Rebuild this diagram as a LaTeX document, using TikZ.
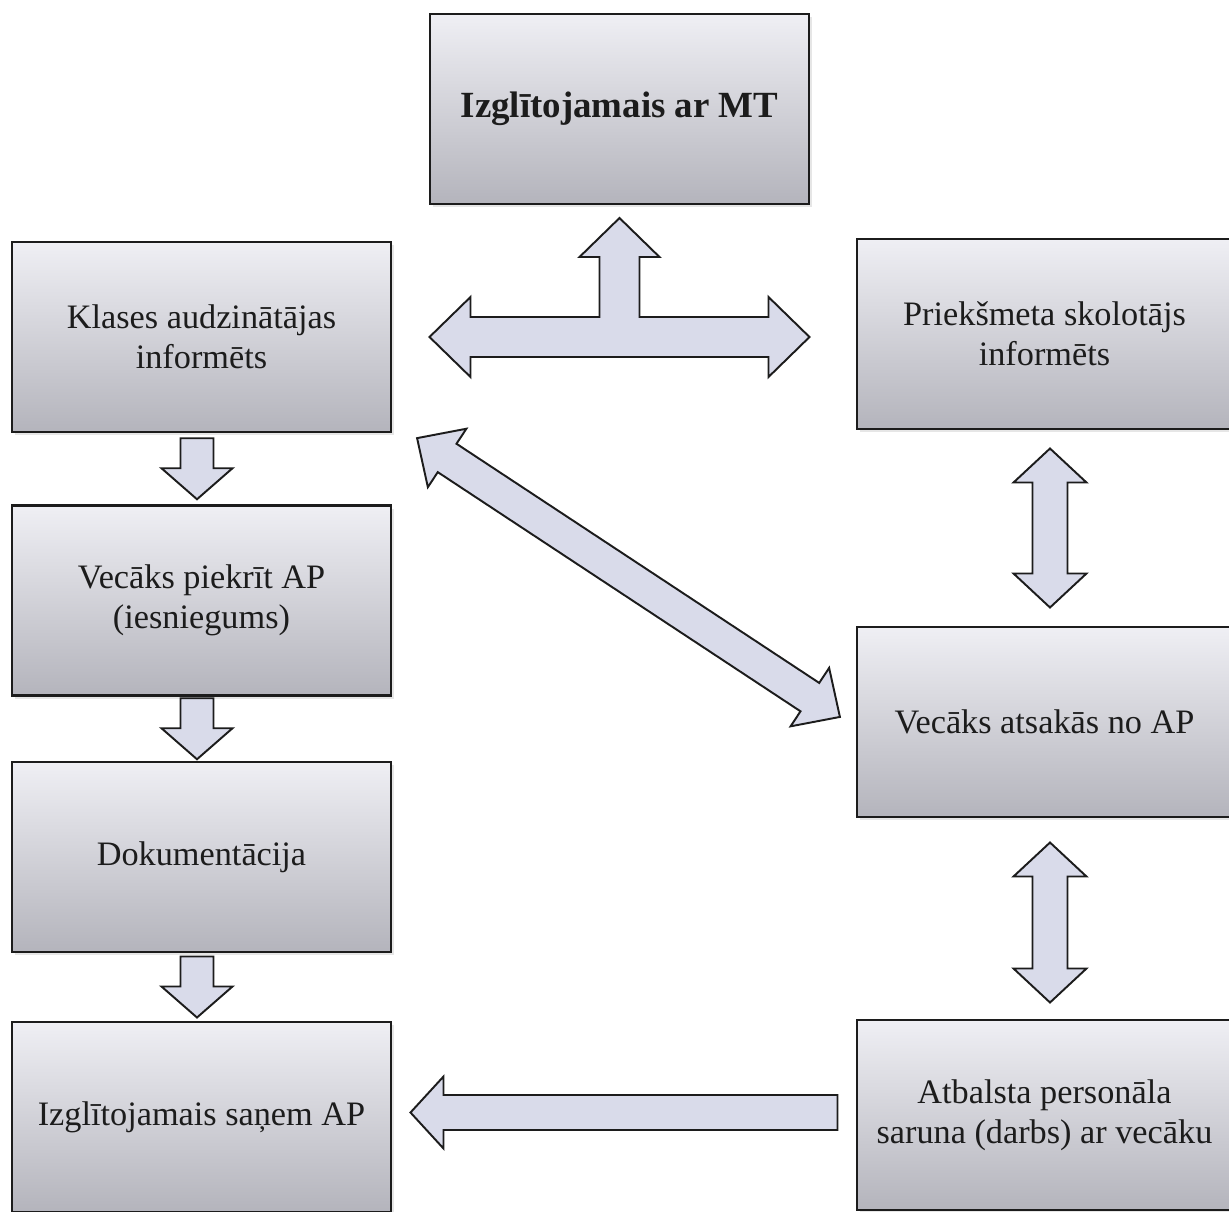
\documentclass[tikz,border=0pt]{standalone}
\usepackage{fontspec}
\setmainfont{Liberation Serif}
\usepackage{xcolor}
\definecolor{boxtop}{HTML}{EFEFF4}
\definecolor{boxbot}{HTML}{B4B4BC}
\definecolor{arrowfill}{HTML}{D9DBEA}
\definecolor{edge}{HTML}{1C1C1C}
\usetikzlibrary{calc, shadows}

\begin{document}
\begin{tikzpicture}[
    font=\fontsize{19.5}{23}\selectfont,
    text=edge,
    block/.style={draw=edge, line width=1.2pt, top color=boxtop, bottom color=boxbot,
                  minimum width=7.58cm, minimum height=3.8cm, align=center, inner sep=0pt,
                  drop shadow={opacity=0.2, shadow xshift=0.06cm, shadow yshift=-0.06cm}},
    arrowbox/.style={draw=edge, line width=1.1pt, fill=arrowfill, line join=miter},
    pics/onehead/.style args={#1/#2/#3/#4}{code={
        \draw[arrowbox] (-#1/2,-#2) -- (#1/2-#4,-#2) -- (#1/2-#4,-#3) -- (#1/2,0)
              -- (#1/2-#4,#3) -- (#1/2-#4,#2) -- (-#1/2,#2) -- cycle;}},
    pics/twohead/.style args={#1/#2/#3/#4}{code={
        \draw[arrowbox] (-#1/2,0) -- (-#1/2+#4,-#3) -- (-#1/2+#4,-#2) -- (#1/2-#4,-#2)
              -- (#1/2-#4,-#3) -- (#1/2,0) -- (#1/2-#4,#3) -- (#1/2-#4,#2)
              -- (-#1/2+#4,#2) -- (-#1/2+#4,#3) -- cycle;}}
]

\path[use as bounding box, clip] (0,0) rectangle (24.58,-24.24);

% ── Top ──
\node[block, font=\bfseries\fontsize{21}{25}\selectfont] (top) at (12.39,-2.18) {Izglītojamais ar MT};

% ── Left column ──
\node[block] (l1) at (4.03,-6.74) {Klases audzinātājas\\informēts};
\node[block] (l2) at (4.03,-12.01) {Vecāks piekrīt AP\\(iesniegums)};
\node[block] (l3) at (4.03,-17.14) {Dokumentācija};
\node[block] (l4) at (4.03,-22.34) {Izglītojamais saņem AP};

% ── Right column ──
\node[block, minimum width=7.5cm] (r1) at (20.89,-6.68) {Priekšmeta skolotājs\\informēts};
\node[block, minimum width=7.5cm] (r2) at (20.89,-14.44) {Vecāks atsakās no AP};
\node[block, minimum width=7.5cm] (r3) at (20.89,-22.30) {Atbalsta personāla\\saruna (darbs) ar vecāku};

% ── T arrow under the top box ──
\coordinate (tee) at (top.south |- l1.center);
\draw[arrowbox, shift={(tee)}] (-3.80,0) -- (-2.98,0.80) -- (-2.98,0.40) -- (-0.40,0.40)
     -- (-0.40,1.60) -- (-0.80,1.60) -- (0,2.38) -- (0.80,1.60) -- (0.40,1.60)
     -- (0.40,0.40) -- (2.98,0.40) -- (2.98,0.80) -- (3.80,0) -- (2.98,-0.80)
     -- (2.98,-0.40) -- (-2.98,-0.40) -- (-2.98,-0.80) -- cycle;

% ── Left column arrows ──
\pic[rotate=-90] at ($(l1.south)!0.5!(l2.north)+(-0.09,0)$) {onehead=1.22/0.33/0.71/0.62};
\pic[rotate=-90] at ($(l2.south)!0.5!(l3.north)+(-0.09,0)$) {onehead=1.22/0.33/0.71/0.62};
\pic[rotate=-90] at ($(l3.south)!0.5!(l4.north)+(-0.09,0)$) {onehead=1.22/0.33/0.71/0.62};

% ── Diagonal ──
\pic[rotate=-33.4] at ($(l1.south east)!0.5!(r2.west)+(0.09,0)$) {twohead=10.13/0.34/0.70/0.72};

% ── Right column arrows ──
\pic[rotate=90] at ($(r1.south)!0.5!(r2.north)+(0.11,0)$) {twohead=3.18/0.35/0.73/0.68};
\pic[rotate=90] at ($(r2.south)!0.5!(r3.north)+(0.11,-0.08)$) {twohead=3.20/0.35/0.73/0.68};

% ── Bottom arrow ──
\pic[rotate=180] at ($(r3.west)!0.5!(l4.east)+(0,0.07)$) {onehead=8.54/0.35/0.72/0.66};

\end{tikzpicture}
\end{document}
